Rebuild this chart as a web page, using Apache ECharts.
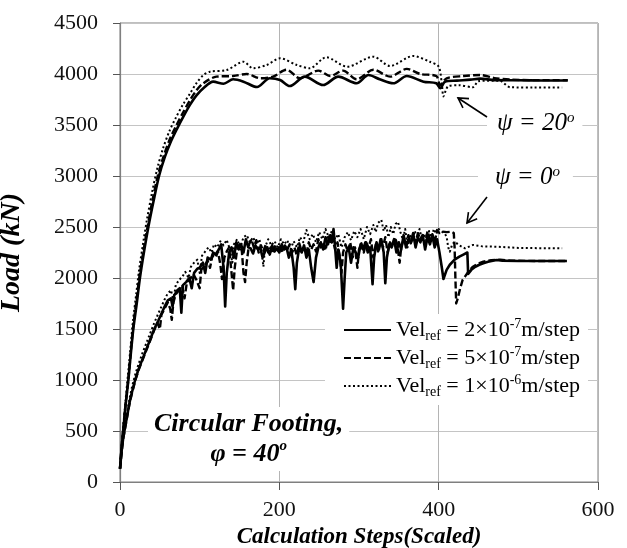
<!DOCTYPE html>
<html>
<head>
<meta charset="utf-8">
<script src="https://cdn.jsdelivr.net/npm/echarts@6/dist/echarts.min.js"></script>
<style>
  html, body { margin: 0; padding: 0; background: #fff; }
  #chart { width: 627px; height: 548px; }
</style>
</head>
<body>
<div id="chart"></div>
<script>
// Axis ticks
const xTicks = [0, 200, 400, 600];
const yTicks = [0, 500, 1000, 1500, 2000, 2500, 3000, 3500, 4000, 4500];

// Reference velocities (legend entries)
const velNames = ['vel2e-7', 'vel5e-7', 'vel1e-6'];
const velMant = ['2', '5', '1'];
const velExp = ['-7', '-7', '-6'];

// Load vs calculation steps, dilation angle psi = 20 deg
const psi20Vel2 = [[0,130],[2,330],[4,500],[7,750],[10.5,1000],[13.5,1250],[16.7,1500],[21,1750],[25,2000],[30,2250],[35.6,2500],[42,2750],[49,3000],[56,3180],[64,3340],[72,3470],[80,3590],[88,3700],[96,3790],[104.6,3860],[117,3925],[130,3905],[142,3948],[155,3925],[172,3872],[188,3958],[201,3941],[213,3882],[232,3974],[255,3892],[274,3974],[297,3909],[312,3990],[326,3948],[343,3909],[360,3980],[381,3925],[397,3909],[402,3860],[408,3925],[423,3935],[440,3945],[452,3955],[470,3940],[500,3938],[530,3937],[562,3937]];
const psi20Vel5 = [[0,130],[2,340],[4,510],[7,760],[10.5,1010],[13.5,1270],[16.5,1520],[20.5,1770],[24.5,2020],[29.5,2270],[35,2520],[41,2770],[48,3020],[55,3200],[63,3370],[71,3500],[79,3620],[88,3745],[96,3840],[104.6,3909],[121,3974],[142,3980],[159,4000],[176,3958],[192,3974],[209,4042],[226,3958],[249,4033],[264,3980],[280,4033],[297,3948],[318,4042],[339,3974],[360,4050],[377,4000],[397,3980],[402,3892],[410,3958],[431,3980],[452,3990],[470,3960],[490,3945],[520,3940],[562,3940]];
const psi20Vel10 = [[0,130],[2,360],[4,540],[7,800],[10,1050],[13,1300],[16,1560],[20,1820],[24,2080],[29,2340],[34,2580],[40,2830],[47,3080],[54,3270],[62,3440],[70,3570],[79,3700],[88,3810],[96,3910],[104.6,3990],[113,4023],[134,4039],[155,4120],[167,4056],[184,4088],[201,4154],[222,4088],[238,4056],[259,4164],[285,4072],[318,4170],[339,4078],[368,4176],[389,4120],[400,4072],[404,3900],[406,3780],[409,3840],[412,3880],[425,3890],[443,3870],[450,3930],[476,3935],[490,3870],[520,3868],[555,3868]];

// Load vs calculation steps, dilation angle psi = 0 deg
const psi0Vel2 = [[0,130],[2,300],[4,430],[6,520],[9,650],[12,780],[15,880],[19,1000],[23,1100],[28,1200],[33,1300],[38,1400],[43,1500],[48,1580],[52,1650],[56,1720],[60,1780],[64,1800],[66,1720],[68,1830],[72,1880],[75,1900],[77,1660],[79,1930],[83,1960],[87,2000],[90,1900],[93,2050],[97,2090],[100,2100],[104,2150],[107,2050],[110,2200],[114,2180],[117,2250],[120,2230],[124,2280],[127,2330],[130,2100],[132,1720],[134,2050],[137,2250],[140,2300],[143,2200],[146,2350],[149,2280],[152,2330],[155,2250],[158,2380],[161,2300],[164,2290],[167,2240],[170,2320],[173,2280],[176,2300],[179,2200],[182,2260],[185,2300],[188,2230],[191,2320],[194,2260],[197,2290],[200,2250],[203,2330],[206,2280],[209,2300],[212,2200],[215,2280],[218,2100],[220,1890],[222,2150],[225,2300],[228,2250],[231,2320],[234,2200],[237,2280],[240,2100],[243,1960],[246,2200],[249,2300],[252,2350],[255,2280],[258,2400],[261,2330],[264,2420],[266,2350],[268,2480],[270,2300],[272,2100],[274,2280],[277,2150],[280,1700],[282,2000],[284,2250],[287,2300],[290,2150],[293,2300],[296,2250],[299,2200],[302,2330],[305,2280],[308,2350],[311,2250],[314,2300],[317,1940],[319,2200],[322,2350],[325,2280],[328,2380],[331,2250],[333,1950],[335,2200],[338,2330],[341,2300],[344,2380],[347,2250],[350,2350],[353,2280],[356,2420],[359,2300],[362,2380],[365,2350],[368,2440],[371,2300],[374,2400],[377,2350],[380,2420],[383,2280],[386,2400],[389,2330],[392,2420],[395,2300],[398,2380],[401,2250],[404,2100],[406,1990],[410,2080],[414,2130],[420,2180],[426,2210],[431,2230],[436,2250],[437,2040],[441,2080],[446,2110],[451,2130],[456,2145],[462,2160],[468,2170],[473,2177],[480,2170],[500,2167],[530,2166],[561,2166]];
const psi0Vel5 = [[0,130],[2,290],[4,420],[6,510],[9,640],[12,770],[15,870],[19,990],[23,1090],[28,1190],[33,1290],[38,1390],[43,1490],[47,1560],[50,1500],[52,1640],[56,1700],[60,1760],[63,1700],[65,1590],[67,1760],[70,1840],[74,1880],[78,1920],[81,1800],[84,1960],[88,1990],[92,2040],[96,1980],[100,1900],[102,2080],[106,2120],[110,2170],[113,2100],[116,2220],[120,2200],[123,2260],[126,2130],[128,1990],[131,2200],[134,2260],[137,2300],[140,2050],[142,1880],[144,2100],[147,2280],[150,2330],[153,2260],[155,2050],[157,1960],[159,2150],[162,2330],[165,2380],[168,2300],[171,2370],[174,2250],[177,2320],[180,2260],[183,2330],[186,2250],[189,2300],[192,2240],[195,2320],[198,2270],[201,2330],[204,2250],[207,2320],[210,2280],[213,2330],[216,2250],[219,2300],[222,2220],[225,2340],[228,2260],[231,2300],[234,2240],[237,2350],[240,2280],[243,2330],[246,2260],[249,2380],[252,2300],[255,2350],[258,2270],[261,2400],[264,2330],[267,2380],[270,2280],[273,2350],[276,2200],[278,2050],[280,2250],[283,2330],[286,2260],[289,2350],[292,2200],[295,2300],[298,2100],[300,2280],[303,2340],[306,2250],[309,2350],[312,2300],[315,2380],[318,2200],[321,2330],[324,2260],[327,2380],[330,2300],[333,2400],[336,2250],[339,2350],[342,2300],[345,2400],[348,2330],[351,2150],[353,2300],[356,2380],[359,2330],[362,2420],[365,2340],[368,2400],[371,2350],[374,2440],[377,2380],[380,2420],[383,2330],[386,2460],[389,2380],[392,2430],[395,2350],[398,2470],[401,2440],[405,2455],[410,2450],[416,2454],[419,2440],[420,2300],[421,2000],[422,1750],[424,1800],[427,1900],[430,1980],[433,2013],[438,2070],[443,2111],[449,2140],[456,2160],[466,2175],[477,2180],[490,2170],[520,2167],[561,2166]];
const psi0Vel10 = [[0,130],[2,320],[4,460],[6,560],[9,690],[12,820],[15,930],[19,1050],[23,1150],[28,1260],[33,1360],[38,1460],[43,1560],[48,1650],[52,1720],[56,1790],[60,1850],[64,1880],[67,1780],[70,1930],[74,1980],[78,2010],[82,2060],[86,2000],[89,2110],[93,2150],[97,2180],[100,2050],[103,2220],[107,2260],[111,2300],[115,2250],[118,2330],[122,2300],[126,2360],[130,2320],[134,2373],[138,2280],[141,2150],[143,2330],[147,2380],[151,2300],[155,2400],[159,2422],[163,2350],[167,2400],[171,2330],[175,2380],[178,2250],[180,2111],[182,2300],[186,2380],[190,2320],[194,2360],[198,2300],[202,2380],[206,2330],[210,2370],[214,2280],[218,2360],[222,2300],[226,2400],[230,2350],[234,2471],[238,2380],[242,2430],[246,2350],[250,2450],[254,2380],[258,2480],[262,2400],[266,2460],[270,2380],[274,2430],[278,2300],[282,2400],[286,2450],[290,2370],[294,2460],[298,2400],[302,2480],[306,2380],[310,2500],[314,2430],[318,2520],[321,2450],[324,2540],[328,2570],[331,2460],[334,2520],[337,2400],[340,2500],[343,2430],[346,2530],[349,2550],[352,2450],[355,2380],[358,2480],[361,2300],[364,2420],[367,2380],[370,2460],[373,2400],[376,2480],[379,2380],[382,2430],[385,2350],[388,2460],[391,2400],[394,2480],[397,2430],[400,2480],[402,2470],[405,2450],[408,2430],[410,2405],[412,2300],[414,2258],[417,2330],[420,2356],[426,2320],[433,2291],[443,2324],[455,2310],[473,2307],[500,2295],[530,2292],[555,2291]];

const SERIF = '"Liberation Serif", "Times New Roman", serif';

const lineStyles = [
  { type: 'solid', width: 2.6 },
  { type: [7, 3], width: 2.4 },
  { type: [2, 2.5], width: 2 }
];

function makeSeries(name, data, idx, z, smooth) {
  return {
    type: 'line',
    name: name,
    data: data,
    symbol: 'none',
    smooth: smooth,
    z: z,
    lineStyle: Object.assign({ color: '#000', join: 'round' }, lineStyles[idx]),
    itemStyle: { color: '#000' },
    emphasis: { disabled: true }
  };
}

const series = [
  makeSeries(velNames[2], psi20Vel10, 2, 2, 0.3),
  makeSeries(velNames[1], psi20Vel5, 1, 3, 0.3),
  makeSeries(velNames[0], psi20Vel2, 0, 4, 0.3),
  makeSeries(velNames[2], psi0Vel10, 2, 2, false),
  makeSeries(velNames[1], psi0Vel5, 1, 3, false),
  makeSeries(velNames[0], psi0Vel2, 0, 4, false)
];

const chart = echarts.init(document.getElementById('chart'), null, { renderer: 'canvas' });

// Open arrow: shaft plus two short wings at the head
function arrow(x1, y1, x2, y2) {
  const dx = x1 - x2, dy = y1 - y2;
  const len = Math.sqrt(dx * dx + dy * dy);
  const ux = dx / len, uy = dy / len;
  const w = 11, c = Math.cos(Math.PI / 6), s = Math.sin(Math.PI / 6);
  const a = [x2 + w * (ux * c - uy * s), y2 + w * (ux * s + uy * c)];
  const b = [x2 + w * (ux * c + uy * s), y2 + w * (-ux * s + uy * c)];
  const st = { stroke: '#000', lineWidth: 1.6, fill: null };
  return [
    { type: 'line', shape: { x1: x1, y1: y1, x2: x2, y2: y2 }, style: st, z: 20 },
    { type: 'polyline', shape: { points: [a, [x2, y2], b] }, style: st, z: 20 }
  ];
}

const labelRich = {
  t: { fontFamily: SERIF, fontSize: 25, fontStyle: 'italic', color: '#000' },
  s: { fontFamily: SERIF, fontSize: 15, fontStyle: 'italic', color: '#000', verticalAlign: 'top', padding: [0, 0, 10, 0] }
};

const footRich = {
  t: { fontFamily: SERIF, fontSize: 26, fontStyle: 'italic', fontWeight: 'bold', color: '#000', lineHeight: 30, align: 'center' },
  s: { fontFamily: SERIF, fontSize: 15, fontStyle: 'italic', fontWeight: 'bold', color: '#000', verticalAlign: 'top', padding: [0, 0, 12, 0] }
};

chart.setOption({
  animation: false,
  backgroundColor: '#fff',
  grid: {
    left: 120, right: 29, top: 23, bottom: 66,
    outerBoundsMode: 'none',
    containLabel: false,
    show: true, borderColor: '#7f7f7f', borderWidth: 1, backgroundColor: 'transparent'
  },
  xAxis: {
    type: 'value',
    min: xTicks[0], max: xTicks[xTicks.length - 1], interval: 200,
    name: 'Calculation Steps(Scaled)',
    nameLocation: 'middle', nameGap: 42,
    nameTextStyle: { fontFamily: SERIF, fontSize: 23, fontStyle: 'italic', fontWeight: 'bold', color: '#000' },
    axisLine: { show: true, onZero: false, lineStyle: { color: '#7f7f7f', width: 1.2 } },
    axisTick: { show: true, inside: false, length: 8, lineStyle: { color: '#555' } },
    axisLabel: { fontFamily: SERIF, fontSize: 22, color: '#111', margin: 17, formatter: function (v) { return String(v); } },
    splitLine: { show: true, lineStyle: { color: '#b4b4b4', width: 1 } }
  },
  yAxis: {
    type: 'value',
    min: yTicks[0], max: yTicks[yTicks.length - 1], interval: 500,
    name: 'Load (kN)',
    nameLocation: 'middle', nameGap: 94,
    nameTextStyle: { fontFamily: SERIF, fontSize: 28, fontStyle: 'italic', fontWeight: 'bold', color: '#000' },
    axisLine: { show: true, onZero: false, lineStyle: { color: '#7f7f7f', width: 1.2 } },
    axisTick: { show: true, inside: false, length: 7, lineStyle: { color: '#555' } },
    axisLabel: { fontFamily: SERIF, fontSize: 22, color: '#111', margin: 22, formatter: function (v) { return String(v); } },
    splitLine: { show: true, lineStyle: { color: '#c4c4c4', width: 1 } }
  },
  legend: {
    data: velNames,
    orient: 'vertical',
    left: 325, top: 314,
    itemWidth: 47, itemHeight: 14, itemGap: 2,
    backgroundColor: '#fff',
    padding: [3, 8, 6, 18],
    selectedMode: false,
    itemStyle: { color: 'rgba(0,0,0,0)', borderWidth: 0, opacity: 0 },
    textStyle: {
      fontFamily: SERIF, fontSize: 22, color: '#000',
      rich: {
        t: { fontFamily: SERIF, fontSize: 22, color: '#000', lineHeight: 26 },
        sub: { fontFamily: SERIF, fontSize: 14, color: '#000', verticalAlign: 'bottom', lineHeight: 14 },
        sup: { fontFamily: SERIF, fontSize: 14, color: '#000', verticalAlign: 'top', lineHeight: 14 }
      }
    },
    formatter: function (name) {
      const i = velNames.indexOf(name);
      return '{t|Vel}{sub|ref}{t| = ' + velMant[i] + '×10}{sup|' + velExp[i] + '}{t|m/step}';
    }
  },
  series: series,
  graphic: [
    {
      type: 'text', left: 487, top: 109, z: 15,
      style: { text: '{t|ψ = 20}{s|o}', rich: labelRich, backgroundColor: '#fff', padding: [2, 8, 2, 10] }
    },
    {
      type: 'text', left: 478, top: 163, z: 15,
      style: { text: '{t|ψ = 0}{s|o}', rich: labelRich, backgroundColor: '#fff', padding: [2, 13, 2, 17] }
    },
    {
      type: 'text', left: 148, top: 407, z: 15,
      style: {
        text: '{t|Circular Footing,}\n{t|φ = 40}{s|o}',
        rich: footRich, align: 'center', backgroundColor: '#fff', padding: [2, 6, 2, 6]
      }
    }
  ].concat(arrow(487, 117, 458, 98), arrow(487, 197, 467, 223))
});
</script>
</body>
</html>
